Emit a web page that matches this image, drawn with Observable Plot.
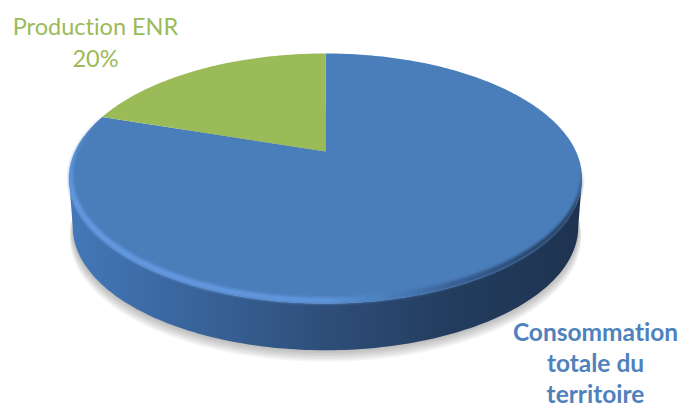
<!DOCTYPE html>
<html>
<head>
<meta charset="utf-8">
<script src="https://cdn.jsdelivr.net/npm/d3@7"></script>
<script src="https://cdn.jsdelivr.net/npm/@observablehq/plot@0.6"></script>
<style>
  html, body { margin: 0; padding: 0; background: #fff; }
  svg { display: block; font-variant-ligatures: none; }
</style>
</head>
<body>
<div id="chart"></div>
<script>
// Shares of the disc, clockwise from twelve o'clock
const sliceNames = ["Consommation totale du territoire", "Production ENR"];
const sliceShares = [80, 20];
const sliceColors = ["#4a7ebb", "#9bbb59"];

const width = 682, height = 405;

// Tilted-disc geometry: the centre sits at (cx, cy) on the page, "persp" makes the
// near edge larger than the far edge, "thickness" and "shrink" place the lower rim.
const cx = 325, cy = 151, unitX = 250.5, unitY = 119.2, persp = 0.216;
const thickness = 49 / unitY, shrink = 0.985;

const rad = d => d * Math.PI / 180;
// A point on the disc at a polar angle and radius, in disc units
const onDisc = (deg, r = 1, scale = 1, drop = 0) => {
  const u = r * Math.sin(rad(deg)), v = r * Math.cos(rad(deg));
  const k = 1 + persp * v;
  return {px: scale * u / k, py: scale * v / k - drop};
};
const arc = (from, to, f, step = 1) =>
  d3.range(0, Math.abs(to - from) + step / 2, step).map(t => f(from + Math.sign(to - from) * t));

// Slice outlines come straight from the shares
let running = 0;
const slices = sliceShares.map((share, i) => {
  const a0 = running / 100 * 360;
  running += share;
  const a1 = running / 100 * 360;
  return {name: sliceNames[i], color: sliceColors[i],
          points: [{px: 0, py: 0}, ...arc(a0, a1, a => onDisc(a))]};
});

const edgeAngle = Math.acos(-persp) * 180 / Math.PI;
const wall = [
  ...arc(edgeAngle, 360 - edgeAngle, a => onDisc(a)),
  ...arc(360 - edgeAngle, edgeAngle, a => onDisc(a, 1, shrink, thickness))
];

// Cast shadow: stacked translucent copies of the lower rim, each a little wider and lower
const shadowLayers = d3.range(1, 9).map(i =>
  arc(0, 360, a => onDisc(a, 1, shrink + 0.0016 * i, thickness + 1.2 * i / unitY))
);

// Soft bevel running round the front of the top face: it starts later on the shaded side
const bevelStart = a => (a < 180 ? -0.15 : 0.35);
const bevelWidth = a => 0.032 * Math.max(0, (bevelStart(a) - Math.cos(rad(a))) / (1 + bevelStart(a)));
const bevel = [
  ...arc(99, 290, a => onDisc(a)),
  ...arc(290, 99, a => onDisc(a, 1 - bevelWidth(a)))
];

const gradient = (id, stops) => {
  const g = d3.create("svg:linearGradient").attr("id", id)
    .attr("x1", "0%").attr("x2", "100%").attr("y1", "0%").attr("y2", "0%");
  stops.forEach(([o, c]) => g.append("stop").attr("offset", o).attr("stop-color", c));
  return g.node();
};
const shadeDefs = () => {
  const d = d3.create("svg:defs");
  d.node().append(
    gradient("wallShade", [["0%", "#4478b8"], ["22%", "#3a669e"], ["50%", "#2e4e79"], ["75%", "#233c5e"], ["100%", "#1e3350"]]),
    gradient("bevelShade", [["0%", "#659ae2"], ["50%", "#5f95dc"], ["62%", "#4a7ebb"], ["78%", "#35598a"], ["100%", "#1f3553"]])
  );
  return d.node();
};

const shape = (pts, options) => Plot.line(pts, {x: "px", y: "py", stroke: "none", curve: "linear", ...options});

const chart = Plot.plot({
  width, height,
  margin: 0,
  x: {domain: [-cx / unitX, (width - cx) / unitX], range: [0, width], axis: null},
  y: {domain: [cy / unitY, (cy - height) / unitY], range: [0, height], axis: null},
  marks: [
    ...shadowLayers.map(layer => shape(layer, {fill: "#555", fillOpacity: 0.05})),
    shape(wall, {fill: "url(#wallShade)"}),
    ...slices.map(s => shape(s.points, {fill: s.color})),
    shape(bevel, {fill: "url(#bevelShade)", imageFilter: "blur(1.5px)"}),
    Plot.text([`${sliceNames[1]}\n${sliceShares[1]}%`], {
      frameAnchor: "top-left", dx: 95, dy: 12, lineAnchor: "top", textAnchor: "middle",
      lineHeight: 1.36, fontFamily: "Lato", fontSize: 23.5, fill: sliceColors[1]
    }),
    Plot.text(["Consommation\ntotale du\nterritoire"], {
      frameAnchor: "top-left", dx: 595, dy: 318, lineAnchor: "top", textAnchor: "middle",
      lineHeight: 1.27, fontFamily: "Lato", fontSize: 24.5, fontWeight: 700, fill: "#4f81bd"
    }),
    shadeDefs
  ]
});
document.getElementById("chart").append(chart);
</script>
</body>
</html>
